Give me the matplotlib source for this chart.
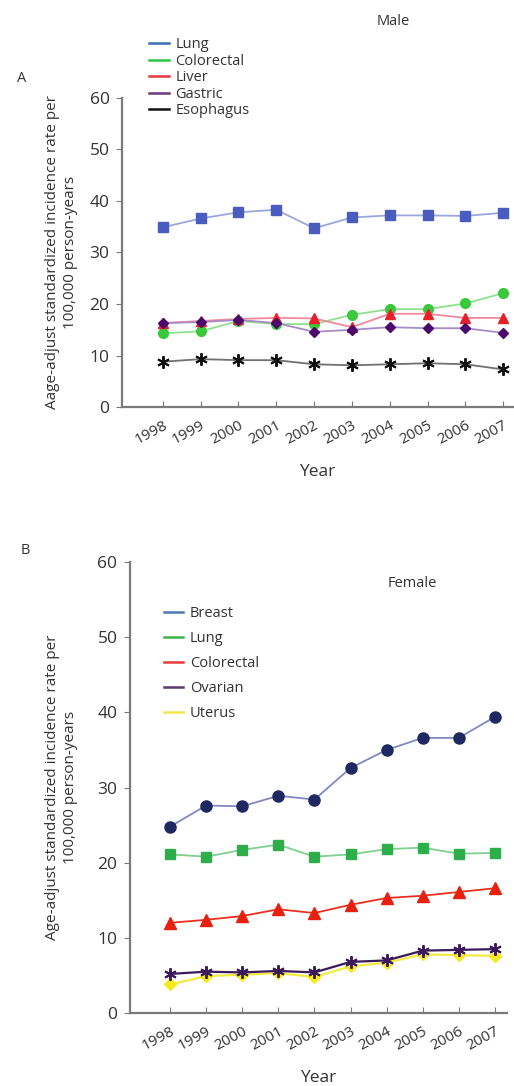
import matplotlib.pyplot as plt
from matplotlib.lines import Line2D

plt.rcParams['font.family'] = ['Open Sans', 'DejaVu Sans']

years = [1998, 1999, 2000, 2001, 2002, 2003, 2004, 2005, 2006, 2007]
year_labels = [str(y) for y in years]

# panel A - male
male_lung = [34.9, 36.6, 37.8, 38.3, 34.7, 36.8, 37.2, 37.2, 37.1, 37.7]
male_colorectal = [14.3, 14.7, 16.7, 16.1, 16.1, 17.9, 19.0, 19.0, 20.1, 22.1]
male_liver = [16.3, 16.7, 17.1, 17.3, 17.2, 15.5, 18.1, 18.1, 17.3, 17.3]
male_gastric = [16.3, 16.5, 16.9, 16.3, 14.6, 15.0, 15.5, 15.3, 15.3, 14.4]
male_esophagus = [8.8, 9.3, 9.1, 9.1, 8.3, 8.1, 8.3, 8.5, 8.3, 7.3]

# panel B - female
female_breast = [24.8, 27.6, 27.5, 28.9, 28.4, 32.6, 35.0, 36.6, 36.6, 39.4]
female_lung = [21.1, 20.8, 21.7, 22.4, 20.8, 21.1, 21.8, 22.0, 21.2, 21.3]
female_colorectal = [12.0, 12.4, 12.9, 13.8, 13.3, 14.4, 15.3, 15.6, 16.1, 16.6]
female_ovarian = [5.2, 5.5, 5.4, 5.6, 5.4, 6.8, 7.0, 8.3, 8.4, 8.5]
female_uterus = [3.8, 4.9, 5.1, 5.3, 4.8, 6.2, 6.7, 7.8, 7.7, 7.6]

male_names = ['Lung', 'Colorectal', 'Liver', 'Gastric', 'Esophagus']
female_names = ['Breast', 'Lung', 'Colorectal', 'Ovarian', 'Uterus']

AXIS_GRAY = '#7a7a7a'
TEXT = '#333333'


def style_axes(ax, xlim):
    for side in ['top', 'right']:
        ax.spines[side].set_visible(False)
    for side in ['left', 'bottom']:
        ax.spines[side].set_color(AXIS_GRAY)
        ax.spines[side].set_linewidth(1.6)
    ax.set_xlim(*xlim)
    ax.set_ylim(0, 60)
    ax.set_yticks([0, 10, 20, 30, 40, 50, 60])
    ax.set_xticks(years)
    ax.set_xticklabels(year_labels, rotation=28, ha='right',
                       rotation_mode='anchor')
    ax.tick_params(axis='y', direction='out', length=4, color=AXIS_GRAY,
                   labelsize=12.5, labelcolor=TEXT, pad=5)
    ax.tick_params(axis='x', direction='in', length=4, color=AXIS_GRAY,
                   labelsize=11, labelcolor=TEXT, pad=8)
    ax.set_xlabel('Year', fontsize=12.5, color=TEXT, labelpad=12)


fig = plt.figure(figsize=(5.14, 10.86), dpi=100)

# ---- panel A
ax1 = fig.add_axes([0.2374, 0.6252, 0.7606, 0.2846])
ax1.plot(years, male_lung, color='#9aa6dc', lw=1.3, marker='s', ms=6.5,
         mfc='#4a5cc0', mec='#4a5cc0', zorder=3)
ax1.plot(years, male_colorectal, color='#8fe08f', lw=1.3, marker='o', ms=7,
         mfc='#3cc83c', mec='#3cc83c', zorder=3)
ax1.plot(years, male_liver, color='#f08a9a', lw=1.3, marker='^', ms=7,
         mfc='#e8202a', mec='#e8202a', zorder=4)
ax1.plot(years, male_gastric, color='#a88ac8', lw=1.3, marker='D', ms=5.5,
         mfc='#4b0a6b', mec='#4b0a6b', zorder=4)
ax1.plot(years, male_esophagus, color='#707070', lw=1.3, marker=(6, 2, 0),
         ms=9, mec='#111111', mew=1.4, zorder=3)
style_axes(ax1, (1996.92, 2007.26))
ax1.set_ylabel('Aage-adjust standardized incidence rate per\n100,000 person-years',
               fontsize=11, color=TEXT, linespacing=1.3, labelpad=8)

male_legend_colors = ['#3a6fb5', '#2ec44a', '#e8383d', '#6b3a7d', '#111111']
handles = [Line2D([], [], color=c, lw=1.8) for c in male_legend_colors]
fig.legend(handles, male_names, loc='upper left',
           bbox_to_anchor=(0.29, 0.9655), frameon=False, fontsize=10.5,
           handlelength=1.4, handletextpad=0.4, labelspacing=0.1,
           borderpad=0, borderaxespad=0, labelcolor=TEXT)

fig.text(0.765, 0.980, 'Male', fontsize=10.5, color=TEXT, ha='center', va='center')
fig.text(0.043, 0.928, 'A', fontsize=10.5, color=TEXT, ha='center', va='center')

# ---- panel B
ax2 = fig.add_axes([0.2529, 0.0672, 0.7331, 0.4153])
ax2.plot(years, female_breast, color='#8088c0', lw=1.3, marker='o', ms=8,
         mfc='#1f2860', mec='#1f2860', zorder=3)
ax2.plot(years, female_lung, color='#7fd08f', lw=1.3, marker='s', ms=7,
         mfc='#2eae4a', mec='#2eae4a', zorder=3)
ax2.plot(years, female_colorectal, color='#e83020', lw=1.3, marker='^', ms=8,
         mfc='#e8200f', mec='#e8200f', zorder=3)
ax2.plot(years, female_ovarian, color='#3a1a5a', lw=1.6, marker=(6, 2, 0),
         ms=9, mec='#3a1a5a', mew=1.4, zorder=4)
ax2.plot(years, female_uterus, color='#f2ea40', lw=1.6, marker='D', ms=6,
         mfc='#f5ea20', mec='#f5ea20', zorder=3)
style_axes(ax2, (1996.89, 2007.33))
ax2.set_ylabel('Age-adjust standardized incidence rate per\n100,000 person-years',
               fontsize=11, color=TEXT, linespacing=1.3, labelpad=14)

female_legend_colors = ['#4a7ab8', '#3bb54a', '#e83a3a', '#5a3a6a', '#f0e84a']
handles = [Line2D([], [], color=c, lw=1.8) for c in female_legend_colors]
fig.legend(handles, female_names, loc='upper left',
           bbox_to_anchor=(0.32, 0.4420), frameon=False, fontsize=10.5,
           handlelength=1.3, handletextpad=0.45, labelspacing=0.68,
           borderpad=0, borderaxespad=0, labelcolor=TEXT)

fig.text(0.803, 0.4625, 'Female', fontsize=10.5, color=TEXT, ha='center', va='center')
fig.text(0.049, 0.4935, 'B', fontsize=10.5, color=TEXT, ha='center', va='center')

fig.savefig('out.png', dpi=100)
